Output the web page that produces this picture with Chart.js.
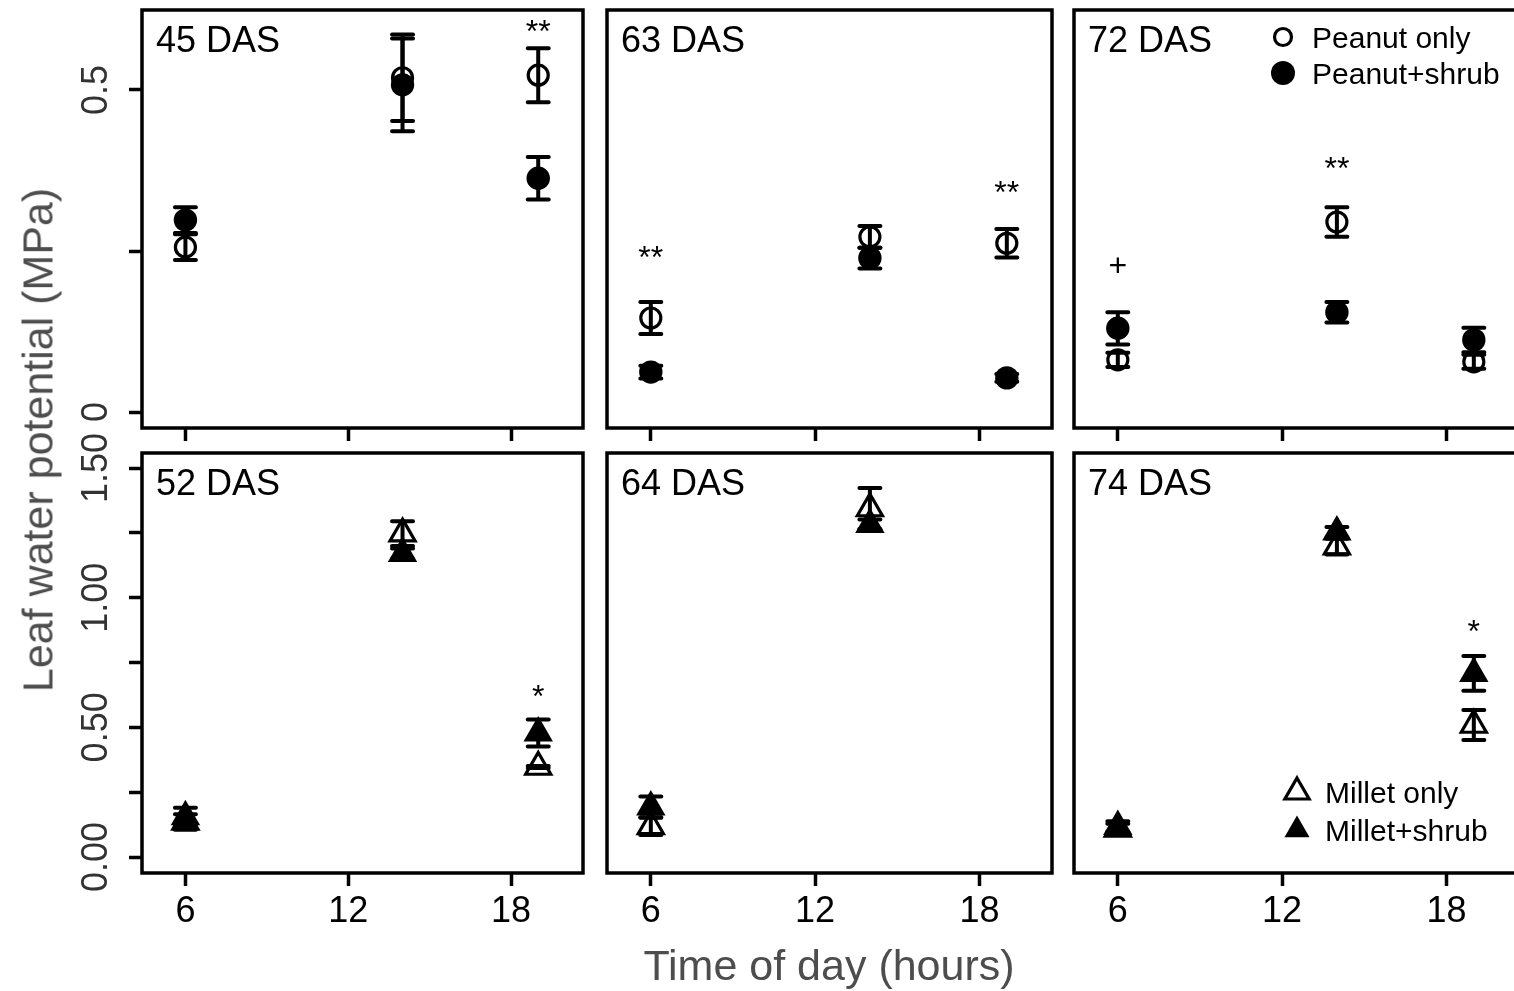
<!DOCTYPE html>
<html>
<head>
<meta charset="utf-8">
<title>Leaf water potential</title>
<script src="https://cdn.jsdelivr.net/npm/chart.js@4.4.1/dist/chart.umd.min.js"></script>
<style>
  html, body { margin: 0; padding: 0; background: #fff; }
  body { position: relative; width: 1514px; height: 991px; overflow: hidden;
         font-family: "Liberation Sans", Arial, Helvetica, sans-serif; }
  canvas { position: absolute; }
  .axis-title { position: absolute; color: #4d4d4d; font-size: 43px; line-height: 1; white-space: nowrap; }
  #xTitle { left: 829px; top: 965px; transform: translate(-50%, -50%); }
  #yTitle { left: 38px; top: 440px; transform: translate(-50%, -50%) rotate(-90deg); }
</style>
</head>
<body>
<canvas id="p00"></canvas>
<canvas id="p01"></canvas>
<canvas id="p02"></canvas>
<canvas id="p10"></canvas>
<canvas id="p11"></canvas>
<canvas id="p12"></canvas>
<div class="axis-title" id="xTitle">Time of day (hours)</div>
<div class="axis-title" id="yTitle">Leaf water potential (MPa)</div>

<script>
// sampling times and axis ticks
const hours = [6, 14, 19];
const hourTicks = [6, 12, 18];

// peanut panels (top row): means and standard errors per panel
const peanutDays = ['45 DAS', '63 DAS', '72 DAS'];
const peanutOnly = [[0.256, 0.519, 0.523], [0.146, 0.272, 0.262], [0.081, 0.295, 0.078]];
const peanutOnlySe = [[0.020, 0.067, 0.042], [0.025, 0.017, 0.022], [0.011, 0.023, 0.011]];
const peanutShrub = [[0.298, 0.508, 0.363], [0.062, 0.239, 0.053], [0.130, 0.155, 0.112]];
const peanutShrubSe = [[0.020, 0.072, 0.033], [0.010, 0.016, 0.006], [0.025, 0.016, 0.019]];
const peanutMarks = [[null, null, '**'], ['**', null, '**'], ['+', '**', null]];
const peanutMarkAt = [[null, null, 0.599], [0.248, null, 0.349], [0.229, 0.387, null]];

// millet panels (bottom row)
const milletDays = ['52 DAS', '64 DAS', '74 DAS'];
const milletOnly = [[0.135, 1.247, 0.347], [0.118, 1.344, null], [0.108, 1.197, 0.509]];
const milletOnlySe = [[0.030, 0.048, 0.004], [0.033, 0.079, null], [0.020, 0.030, 0.058]];
const milletShrub = [[0.155, 1.170, 0.478], [0.193, 1.282, null], [0.118, 1.253, 0.708]];
const milletShrubSe = [[0.035, 0.020, 0.052], [0.040, 0.020, null], [0.020, 0.020, 0.067]];
const milletMarks = [[null, null, '*'], [null, null, null], [null, null, '*']];
const milletMarkAt = [[null, null, 0.640], [null, null, null], [null, null, 0.891]];

// y ticks per row (unlabelled ticks keep an empty string)
const peanutTicks = [0, 0.25, 0.5];
const peanutTickLabels = ['0', '', '0.5'];
const milletTicks = [0, 0.25, 0.5, 0.75, 1, 1.25, 1.5];
const milletTickLabels = ['0.00', '', '0.50', '', '1.00', '', '1.50'];

// panel boxes on the page
const colLeft = [142, 607, 1074];
const colWidth = [441, 445, 445];
const rowTop = [10, 453];
const rowHeight = [418, 420];
const pad = { left: 130, top: 40, right: 20, bottom: 10 };
const xAxisHeight = 70;

const FONT = '"Liberation Sans", Arial, Helvetica, sans-serif';
Chart.defaults.font.family = FONT;

const errorBars = {
  id: 'errorBars',
  afterDatasetsDraw(chart) {
    const { ctx } = chart;
    const xs = chart.scales.x;
    const ys = chart.scales.y;
    ctx.save();
    ctx.strokeStyle = '#000';
    ctx.lineWidth = 4;
    ctx.lineCap = 'round';
    chart.data.datasets.forEach((ds) => {
      ds.data.forEach((p, i) => {
        const se = ds.se[i];
        if (p.y == null || se == null) return;
        const px = xs.getPixelForValue(p.x);
        const top = ys.getPixelForValue(p.y + se);
        const bot = ys.getPixelForValue(p.y - se);
        ctx.beginPath();
        ctx.moveTo(px, top); ctx.lineTo(px, bot);
        ctx.moveTo(px - 10.5, top); ctx.lineTo(px + 10.5, top);
        ctx.moveTo(px - 10.5, bot); ctx.lineTo(px + 10.5, bot);
        ctx.stroke();
      });
    });
    ctx.restore();
  },
};

function decor({ title, tickVals, tickLabels, marks, markAt, legend }) {
  return {
    id: 'decor',
    afterDraw(chart) {
      const { ctx, chartArea: a } = chart;
      const xs = chart.scales.x;
      const ys = chart.scales.y;
      ctx.save();

      // panel frame
      ctx.strokeStyle = '#000';
      ctx.lineWidth = 3.5;
      ctx.strokeRect(a.left, a.top, a.right - a.left, a.bottom - a.top);

      // panel title
      ctx.fillStyle = '#000';
      ctx.font = `36px ${FONT}`;
      ctx.textAlign = 'left';
      ctx.textBaseline = 'alphabetic';
      ctx.fillText(title, a.left + 14, a.top + 42);

      // rotated y tick labels
      if (tickLabels) {
        ctx.fillStyle = '#333';
        ctx.font = `36px ${FONT}`;
        ctx.textAlign = 'center';
        tickVals.forEach((v, i) => {
          if (!tickLabels[i]) return;
          ctx.save();
          ctx.translate(a.left - 35.5, ys.getPixelForValue(v));
          ctx.rotate(-Math.PI / 2);
          ctx.fillText(tickLabels[i], 0, 0);
          ctx.restore();
        });
      }

      // significance marks
      ctx.fillStyle = '#000';
      ctx.font = `32px ${FONT}`;
      ctx.textAlign = 'center';
      marks.forEach((t, i) => {
        if (!t) return;
        const m = ctx.measureText(t);
        const cy = ys.getPixelForValue(markAt[i]);
        ctx.fillText(t, xs.getPixelForValue(hours[i]), cy + (m.actualBoundingBoxAscent - m.actualBoundingBoxDescent) / 2);
      });

      // legend
      if (legend) {
        ctx.textAlign = 'left';
        legend.forEach((it) => {
          const mx = a.left + it.dx;
          const my = a.top + it.dy;
          ctx.fillStyle = it.fill ? '#000' : 'rgba(0,0,0,0)';
          ctx.strokeStyle = '#000';
          ctx.lineWidth = 3.2;
          Chart.helpers.drawPoint(ctx, { pointStyle: it.style, radius: it.r, borderWidth: it.fill ? 0 : 3.2, rotation: 0 }, mx, my);
          ctx.fillStyle = '#000';
          ctx.font = `30px ${FONT}`;
          ctx.fillText(it.text, a.left + it.tx, my + 0.358 * 30);
        });
      }
      ctx.restore();
    },
  };
}

function points(vals) {
  return hours.map((h, i) => ({ x: h, y: vals[i] }));
}

function buildPanel(row, col) {
  const peanut = row === 0;
  const canvas = document.getElementById(`p${row}${col}`);
  canvas.width = colWidth[col] + pad.left + pad.right;
  canvas.height = rowHeight[row] + pad.top + pad.bottom + xAxisHeight;
  canvas.style.left = `${colLeft[col] - pad.left}px`;
  canvas.style.top = `${rowTop[row] - pad.top}px`;

  const shape = peanut ? 'circle' : 'triangle';
  const yTicks = peanut ? peanutTicks : milletTicks;

  let legend = null;
  if (col === 2 && peanut) {
    legend = [
      { text: 'Peanut only', style: 'circle', r: 8.5, fill: false, dx: 209, dy: 27, tx: 238 },
      { text: 'Peanut+shrub', style: 'circle', r: 12, fill: true, dx: 209, dy: 63, tx: 238 },
    ];
  } else if (col === 2) {
    legend = [
      { text: 'Millet only', style: 'triangle', r: 14, fill: false, dx: 223, dy: 339, tx: 251 },
      { text: 'Millet+shrub', style: 'triangle', r: 14.5, fill: true, dx: 223, dy: 377, tx: 251 },
    ];
  }

  return new Chart(canvas, {
    type: 'scatter',
    data: {
      datasets: [
        {
          label: peanut ? 'Peanut only' : 'Millet only',
          data: points(peanut ? peanutOnly[col] : milletOnly[col]),
          se: peanut ? peanutOnlySe[col] : milletOnlySe[col],
          pointStyle: shape,
          pointRadius: peanut ? 10 : 14.5,
          pointBorderWidth: 3.2,
          pointBackgroundColor: 'rgba(0,0,0,0)',
          pointBorderColor: '#000',
        },
        {
          label: peanut ? 'Peanut+shrub' : 'Millet+shrub',
          data: points(peanut ? peanutShrub[col] : milletShrub[col]),
          se: peanut ? peanutShrubSe[col] : milletShrubSe[col],
          pointStyle: shape,
          pointRadius: peanut ? 11.7 : 17,
          pointBorderWidth: 0,
          pointBackgroundColor: '#000',
          pointBorderColor: '#000',
        },
      ],
    },
    options: {
      responsive: false,
      animation: false,
      events: [],
      layout: { padding: pad, autoPadding: false },
      plugins: { legend: { display: false }, tooltip: { enabled: false } },
      scales: {
        x: {
          type: 'linear',
          min: 4.4,
          max: 20.65,
          afterBuildTicks: (s) => { s.ticks = hourTicks.map((v) => ({ value: v })); },
          afterFit: (s) => { s.height = xAxisHeight; },
          grid: { drawOnChartArea: false, drawTicks: true, tickLength: 13, tickWidth: 3.5, tickColor: '#000' },
          border: { display: false },
          ticks: { display: !peanut, autoSkip: false, maxRotation: 0, padding: 4, color: '#000', font: { size: 36 } },
        },
        y: {
          type: 'linear',
          min: peanut ? -0.0248 : -0.0617,
          max: peanut ? 0.6242 : 1.558,
          afterBuildTicks: (s) => { s.ticks = yTicks.map((v) => ({ value: v })); },
          afterFit: (s) => { s.width = 0; },
          grid: { display: col === 0, drawOnChartArea: false, drawTicks: true, tickLength: 13, tickWidth: 3.5, tickColor: '#000' },
          border: { display: false },
          ticks: { display: false },
        },
      },
    },
    plugins: [
      errorBars,
      decor({
        title: peanut ? peanutDays[col] : milletDays[col],
        tickVals: yTicks,
        tickLabels: col === 0 ? (peanut ? peanutTickLabels : milletTickLabels) : null,
        marks: peanut ? peanutMarks[col] : milletMarks[col],
        markAt: peanut ? peanutMarkAt[col] : milletMarkAt[col],
        legend,
      }),
    ],
  });
}

[0, 1].forEach((r) => [0, 1, 2].forEach((c) => buildPanel(r, c)));
</script>
</body>
</html>
